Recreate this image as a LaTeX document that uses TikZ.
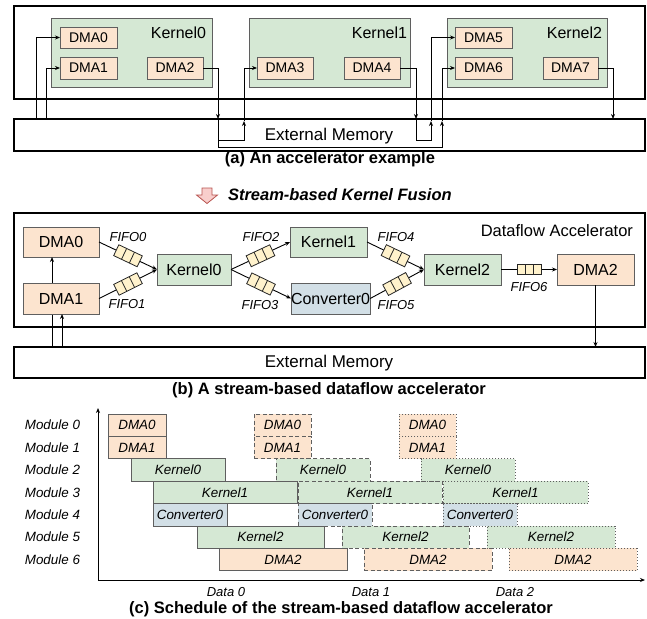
\documentclass[tikz,border=0pt]{standalone}
\usepackage{fontspec}
\setmainfont{Liberation Sans}
\usetikzlibrary{arrows.meta,calc}
\definecolor{orfill}{HTML}{FCE4CF}
\definecolor{grfill}{HTML}{D5E8D4}
\definecolor{blfill}{HTML}{D2DFE6}
\definecolor{fifofill}{HTML}{FFF2CC}
\definecolor{boxline}{HTML}{5F5F5F}
\definecolor{pinkfill}{HTML}{F8CECC}
\definecolor{pinkline}{HTML}{B85450}
\newcommand\bx[7]{\node[#1, anchor=north west, minimum width={#5pt-#3pt}, minimum height={#6pt-#4pt}] (#2) at (#3,#4) {#7};}
\newcommand\sbx[6]{\node[#1, anchor=north west, minimum width=#5pt, minimum height=22.4pt] (#2) at (#3,{414+22.4*#4}) {#6};}
\newcommand\fifodiv[1]{%
  \draw[fifoline] ($(#1.north west)!0.3333!(#1.north east)$) -- ($(#1.south west)!0.3333!(#1.south east)$);
  \draw[fifoline] ($(#1.north west)!0.6667!(#1.north east)$) -- ($(#1.south west)!0.6667!(#1.south east)$);}
\begin{document}
\begin{tikzpicture}[x=1pt,y=-1pt,
  every node/.style={inner sep=0pt, outer sep=0pt},
  arr/.style={-{Stealth[length=5pt,width=4pt]}, line width=0.9pt},
  ln/.style={line width=0.9pt},
  outerbox/.style={draw=black, line width=1.2pt, fill=white, rectangle},
  obox/.style={draw=boxline, fill=orfill, line width=0.9pt, rectangle},
  gbox/.style={draw=boxline, fill=grfill, line width=0.9pt, rectangle},
  bbox/.style={draw=boxline, fill=blfill, line width=0.9pt, rectangle},
  fifoline/.style={draw=black!85, line width=0.8pt},
  fifo/.style={fifoline, fill=fifofill, rectangle, minimum width=26pt, minimum height=12pt, sloped},
  tA/.style={font=\fontsize{14}{16}\selectfont},
  tK/.style={font=\fontsize{16}{18}\selectfont},
  tB/.style={font=\fontsize{16}{18}\selectfont},
  captxt/.style={font=\fontsize{16.5}{19}\selectfont\bfseries},
  fl/.style={font=\fontsize{13}{15}\selectfont\itshape},
  st/.style={font=\fontsize{13.4}{15}\selectfont\itshape},
  dsh/.style={dash pattern=on 4pt off 2.5pt},
  dotln/.style={dash pattern=on 1pt off 2pt}
]
\useasboundingbox (0,0) rectangle (647,618);

% ---------------- (a) ----------------
\bx{outerbox}{accA}{14}{6}{645}{99}{}
\bx{gbox}{k0a}{51}{18}{212}{87}{}
\bx{gbox}{k1a}{249}{18}{410}{87}{}
\bx{gbox}{k2a}{447}{18}{607}{87}{}
\node[tK, anchor=east] (k0al) at (206,33) {Kernel0};
\node[tK, anchor=east] (k1al) at (407,33) {Kernel1};
\node[tK, anchor=east] (k2al) at (602,33) {Kernel2};
\bx{obox,tA}{d0a}{60}{27}{117}{48}{DMA0}
\bx{obox,tA}{d1a}{60}{57}{117}{79}{DMA1}
\bx{obox,tA}{d2a}{147}{57}{203}{79}{DMA2}
\bx{obox,tA}{d3a}{257}{57}{313}{79}{DMA3}
\bx{obox,tA}{d4a}{344}{57}{400}{79}{DMA4}
\bx{obox,tA}{d5a}{455}{27}{512}{48}{DMA5}
\bx{obox,tA}{d6a}{455}{57}{512}{79}{DMA6}
\bx{obox,tA}{d7a}{543}{57}{598}{79}{DMA7}
\bx{outerbox}{memA}{14}{119}{645}{151}{}
\node[font=\fontsize{17}{19}\selectfont] (memAl) at (329,136) {External Memory};

\coordinate (mA0) at (36,119);
\coordinate (mA1) at (46,119);
\coordinate (m1) at (218,119);
\coordinate (m1b) at (218,147);
\coordinate (a1) at (218,140);
\coordinate (a3) at (244,121);
\coordinate (m2) at (416,119);
\coordinate (a4) at (416,140);
\coordinate (a5) at (431,121);
\coordinate (a6) at (442,121);
\coordinate (m3) at (613,119);

\draw[arr] (mA0) |- (d0a.west);
\draw[arr] (mA1) |- (d1a.west);
\draw[arr] (d2a.east) -| (m1);
\draw[ln] (m1) -- (m1b);
\draw[arr] (a1) -| (a3);
\draw[arr] (a3) |- (d3a.west);
\draw[arr] (d4a.east) -| (m2);
\draw[ln] (m2) -- (a4);
\draw[arr] (a4) -| (a5);
\draw[arr] (a5) |- (d5a.west);
\draw[arr] (m1b) -| (a6);
\draw[arr] (a6) |- (d6a.west);
\draw[arr] (d7a.east) -| (m3);

\node[captxt] (capA) at (330,159) {(a) An accelerator example};

% ---------------- fusion arrow ----------------
\draw[fill=pinkfill, draw=pinkline, line width=0.8pt] (202,188) -- (212,188) -- (212,195) -- (217.5,195) -- (207,203.5) -- (196.5,195) -- (202,195) -- cycle;
\node[font=\fontsize{16.5}{19}\selectfont\bfseries\itshape, anchor=west] (fus) at (228,195) {Stream-based Kernel Fusion};

% ---------------- (b) ----------------
\bx{outerbox}{accB}{14}{213}{645}{327}{}
\node[font=\fontsize{16.5}{19}\selectfont, anchor=east] (dfl) at (633,231) {Dataflow Accelerator};
\bx{outerbox}{memB}{14}{347}{645}{378}{}
\node[font=\fontsize{17}{19}\selectfont] (memBl) at (329,363) {External Memory};

\bx{obox,tB}{d0b}{23}{227}{99}{257}{DMA0}
\coordinate (pB0) at (52,347);
\coordinate (pB1) at (62,347);
\draw[arr] (pB0) -- (pB0 |- d0b.south);
\bx{obox,tB}{d1b}{23}{283}{99}{314}{DMA1}
\draw[arr] (pB1) -- (pB1 |- d1b.south);
\bx{gbox,tB}{k0b}{157}{254}{231}{285}{Kernel0}
\bx{gbox,tB}{k1b}{290}{227}{367}{257}{Kernel1}
\bx{bbox,tB}{c0b}{291}{283}{367}{314}{Converter0}
\bx{gbox,tB}{k2b}{424}{254}{501}{285}{Kernel2}
\bx{obox,tB}{d2b}{557}{254}{634}{285}{DMA2}

\draw[arr] (d0b.east) -- node[fifo] (f0) {} (k0b.west);
\draw[arr] (d1b.east) -- node[fifo] (f1) {} (k0b.west);
\draw[arr] (k0b.east) -- node[fifo] (f2) {} (k1b.west);
\draw[arr] (k0b.east) -- node[fifo] (f3) {} (c0b.west);
\draw[arr] (k1b.east) -- node[fifo] (f4) {} (k2b.west);
\draw[arr] (c0b.east) -- node[fifo] (f5) {} (k2b.west);
\draw[arr] (k2b.east) -- node[fifo, minimum height=10pt, minimum width=24pt] (f6) {} (d2b.west);
\fifodiv{f0}\fifodiv{f1}\fifodiv{f2}\fifodiv{f3}\fifodiv{f4}\fifodiv{f5}\fifodiv{f6}
\node[fl] (f0l) at (128,237) {FIFO0};
\node[fl] (f1l) at (127,304) {FIFO1};
\node[fl] (f2l) at (261,237) {FIFO2};
\node[fl] (f3l) at (260,305) {FIFO3};
\node[fl] (f4l) at (396,237) {FIFO4};
\node[fl] (f5l) at (396,305) {FIFO5};
\node[fl] (f6l) at (529,287) {FIFO6};
\draw[arr] (d2b.south) -- (d2b.south |- memB.north);

\node[captxt] (capB) at (329,390) {(b) A stream-based dataflow accelerator};

% ---------------- (c) ----------------
\coordinate (org) at (98,580);
\coordinate (ytip) at (98,408);
\coordinate (xtip) at (645,580);
\draw[arr] (org) -- (ytip);
\draw[arr] (org) -- (xtip);
\foreach \i in {0,...,6} {
  \node[st, anchor=east] (mod\i) at (80,{414+22.4*\i+11.2}) {Module \i};
}
% Data 0
\sbx{obox,st}{s00}{108}{0}{58}{DMA0}
\sbx{obox,st}{s01}{108}{1}{58}{DMA1}
\sbx{gbox,st}{s02}{131}{2}{94}{Kernel0}
\sbx{gbox,st}{s03}{153}{3}{144}{Kernel1}
\sbx{bbox,st}{s04}{153}{4}{74}{Converter0}
\sbx{gbox,st}{s05}{197}{5}{127}{Kernel2}
\sbx{obox,st}{s06}{219}{6}{128}{DMA2}
% Data 1
\sbx{obox,st,dsh}{s10}{254}{0}{57}{DMA0}
\sbx{obox,st,dsh}{s11}{254}{1}{57}{DMA1}
\sbx{gbox,st,dsh}{s12}{276}{2}{94}{Kernel0}
\sbx{gbox,st,dsh}{s13}{298}{3}{144}{Kernel1}
\sbx{bbox,st,dsh}{s14}{298}{4}{74}{Converter0}
\sbx{gbox,st,dsh}{s15}{342}{5}{127}{Kernel2}
\sbx{obox,st,dsh}{s16}{364}{6}{128}{DMA2}
% Data 2
\sbx{obox,st,dotln}{s20}{399}{0}{57}{DMA0}
\sbx{obox,st,dotln}{s21}{399}{1}{57}{DMA1}
\sbx{gbox,st,dotln}{s22}{421}{2}{94}{Kernel0}
\sbx{gbox,st,dotln}{s23}{443}{3}{145}{Kernel1}
\sbx{bbox,st,dotln}{s24}{443}{4}{74}{Converter0}
\sbx{gbox,st,dotln}{s25}{487}{5}{128}{Kernel2}
\sbx{obox,st,dotln}{s26}{509}{6}{128}{DMA2}

\node[font=\fontsize{13}{15}\selectfont\itshape] (dt0) at (226,592) {Data 0};
\node[font=\fontsize{13}{15}\selectfont\itshape] (dt1) at (371,592) {Data 1};
\node[font=\fontsize{13}{15}\selectfont\itshape] (dt2) at (515,592) {Data 2};

\node[captxt] (capC) at (341,609) {(c) Schedule of the stream-based dataflow accelerator};
\end{tikzpicture}
\end{document}
